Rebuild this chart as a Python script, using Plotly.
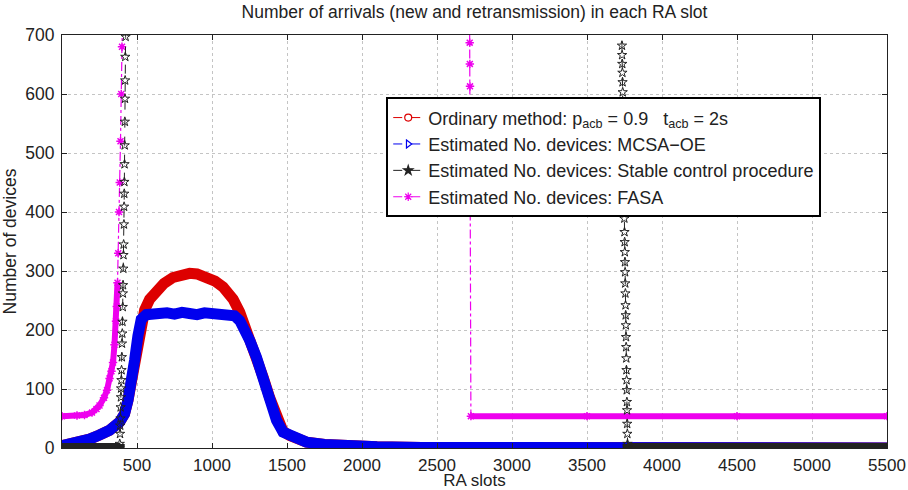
import plotly.graph_objects as go

# ---------------- data ----------------
# Ordinary method: p_acb = 0.9, t_acb = 2s  (red)
ord_x = [0, 100, 184, 250, 317, 384, 417, 440, 462, 484, 506, 528, 551, 584, 629, 680, 740, 800,
         851, 900, 963, 1020, 1074, 1141, 1185, 1252, 1296, 1341, 1385, 1430, 1474, 1519, 1630,
         1750, 1900, 2100, 2400, 3000, 4000, 5500]
ord_y = [4, 8, 15, 22, 30, 44, 58, 81, 109, 149, 188, 214, 234, 252, 266, 279, 289, 294,
         296, 295, 291, 283, 273, 252, 230, 186, 158, 120, 85, 50, 28, 21, 10,
         6, 3, 2, 1, 1, 0, 0]

# Estimated No. devices: MCSA-OE (blue)
mcsa_x = [0, 100, 184, 250, 317, 384, 417, 440, 462, 484, 506, 528, 562, 600, 650, 700, 750, 800,
          850, 900, 950, 1000, 1050, 1100, 1150, 1185, 1220, 1252, 1296, 1341, 1385, 1430, 1474,
          1519, 1630, 1750, 1900, 2100, 2400, 3000, 4000, 5500]
mcsa_y = [4, 8, 15, 22, 30, 44, 58, 81, 109, 149, 190, 218, 226, 228, 226, 229, 227, 230,
          228, 226, 229, 228, 230, 227, 224, 216, 201, 182, 154, 115, 81, 47, 27,
          21, 10, 6, 3, 2, 1, 1, 0, 0]

# Estimated No. devices: Stable control procedure (black)
stable_x = [0, 384,
            385, 387, 388, 390, 391, 393, 394, 396, 397, 399, 400, 402, 403, 405, 406, 407, 409, 410,
            411, 413, 414, 415, 416, 417, 418, 419, 420, 421, 422, 424,
            425, 3732,
            3733, 3734, 3735, 3736, 3737, 3738, 3739, 3740, 3741, 3742, 3743, 3744, 3745, 3746, 3747,
            3748, 3749, 3750, 3751, 3752, 3753, 3754, 3755, 3756, 3757, 3758, 3759, 3760, 3761, 3762,
            3763, 3764, 3765, 3766, 3767, 3768, 3769, 3770, 3771,
            5500]
stable_y = [0, 0,
            7, 24, 38, 50, 69, 86, 101, 115, 132, 154, 177, 194, 214, 239, 262, 276, 304, 327,
            345, 379, 409, 431, 451, 481, 513, 553, 592, 623, 663, 697,
            760, 760,
            682, 666, 651, 636, 620, 603, 586, 569, 552, 535, 518, 501, 484, 467, 450,
            433, 389, 366, 349, 332, 315, 298, 279, 262, 242, 225, 208, 188, 171, 152,
            132, 115, 98, 78, 64, 41, 24, 7, 0,
            0]

# Estimated No. devices: FASA (magenta)
fasa_x = [0, 100, 150, 200, 230, 250, 280, 300, 317, 330, 340, 350, 360, 365, 370, 375, 380, 385,
          390, 395, 400, 405, 2717, 2718, 2719, 2720, 2721, 2722, 2723, 2724, 2725, 2726,
          3500, 4500, 5500]
fasa_y = [54, 55, 56, 60, 66, 72, 85, 98, 118, 130, 145, 175, 215, 240, 280, 330, 400, 450,
          520, 600, 680, 760, 760, 687, 651, 613, 576, 539, 502, 465, 428, 54,
          54, 54, 54]

x_ticks = [500, 1000, 1500, 2000, 2500, 3000, 3500, 4000, 4500, 5000, 5500]
y_ticks = [0, 100, 200, 300, 400, 500, 600, 700]

legend_names = [
    "Ordinary method: p<sub>acb</sub> = 0.9   t<sub>acb</sub> = 2s",
    "Estimated No. devices: MCSA\u2212OE",
    "Estimated No. devices: Stable control procedure",
    "Estimated No. devices: FASA",
]

RED = "#dd0000"
BLUE = "#0000ee"
BLACK = "#222222"
MAG = "#ee00ee"
FONT = "Liberation Sans, Arial, sans-serif"


def band(xs, ys, limit):
    """Keep only points up to `limit` (for the thick marker bands), break elsewhere."""
    bx, by = [], []
    for x, y in zip(xs, ys):
        if y <= limit:
            bx.append(x)
            by.append(y)
        else:
            bx.append(None)
            by.append(None)
    return bx, by


fig = go.Figure()

# red band
fig.add_trace(go.Scatter(x=ord_x, y=ord_y, mode="lines",
                         line=dict(color=RED, width=11), showlegend=False, hoverinfo="skip"))
# blue band
fig.add_trace(go.Scatter(x=mcsa_x, y=mcsa_y, mode="lines",
                         line=dict(color=BLUE, width=11), showlegend=False, hoverinfo="skip"))

# magenta: band + dash-dot line with asterisks
mbx, mby = band(fasa_x, fasa_y, 300)
fig.add_trace(go.Scatter(x=mbx, y=mby, mode="lines",
                         line=dict(color=MAG, width=6), showlegend=False, hoverinfo="skip"))
fig.add_trace(go.Scatter(x=fasa_x, y=fasa_y, mode="lines+markers",
                         line=dict(color=MAG, width=1.2, dash="dashdot"),
                         marker=dict(symbol="asterisk-open", size=7, color=MAG,
                                     line=dict(color=MAG, width=1.5)),
                         showlegend=False, hoverinfo="skip"))

# black: band + dashed line with stars
kbx, kby = band(stable_x, stable_y, 10)
fig.add_trace(go.Scatter(x=kbx, y=kby, mode="lines",
                         line=dict(color=BLACK, width=10), showlegend=False, hoverinfo="skip"))
fig.add_trace(go.Scatter(x=stable_x, y=stable_y, mode="lines+markers",
                         line=dict(color=BLACK, width=1, dash="dash"),
                         marker=dict(symbol="star-open", size=7, color=BLACK,
                                     line=dict(color=BLACK, width=1)),
                         showlegend=False, hoverinfo="skip"))

# legend entries
leg_styles = [
    (RED, "circle-open", "dash"),
    (BLUE, "triangle-right-open", "dash"),
    (BLACK, "star", "dash"),
    (MAG, "asterisk-open", "dashdot"),
]
for name, (c, sym, dash) in zip(legend_names, leg_styles):
    fig.add_trace(go.Scatter(x=[None], y=[None], mode="lines+markers", name=name,
                             line=dict(color=c, width=1, dash=dash),
                             marker=dict(symbol=sym, size=7, color=c, line=dict(color=c, width=1.2))))

axis_common = dict(
    showline=True, linecolor="#222222", linewidth=1.2, mirror="allticks",
    ticks="inside", ticklen=5, tickcolor="#222222",
    showgrid=True, gridcolor="#c4c4c4", griddash="dot", gridwidth=1,
    zeroline=False, automargin=False,
)

fig.update_layout(
    width=908, height=490,
    margin=dict(l=62, r=21, t=35, b=42),
    paper_bgcolor="white", plot_bgcolor="white",
    font=dict(family=FONT, color="#222222"),
    title=dict(text="Number of arrivals (new and retransmission) in each RA slot",
               x=0.5, xref="paper", xanchor="center", y=0.975, yanchor="middle", yref="container",
               font=dict(family=FONT, size=17.5, color="#222222")),
    xaxis=dict(range=[0, 5500], tickvals=x_ticks, ticklabelstandoff=1,
               tickfont=dict(family=FONT, size=17, color="#222222"),
               title=dict(text="RA slots", font=dict(family=FONT, size=17), standoff=0),
               **axis_common),
    yaxis=dict(range=[0, 700], tickvals=y_ticks, ticklabelstandoff=3,
               tickfont=dict(family=FONT, size=17.5, color="#222222"),
               title=dict(text="Number of devices", font=dict(family=FONT, size=17.5), standoff=4),
               **axis_common),
    legend=dict(x=0.393, y=0.849, xanchor="left", yanchor="top",
                bgcolor="white", bordercolor="black", borderwidth=2,
                font=dict(family=FONT, size=18, color="#222222"),
                itemwidth=30, tracegroupgap=0),
    showlegend=True,
)

# remove the browser's default 8px page margin so the figure sits at the window origin
fig.write_html("out.html", config={"displayModeBar": False},
               post_script="document.body.style.margin='0';")
